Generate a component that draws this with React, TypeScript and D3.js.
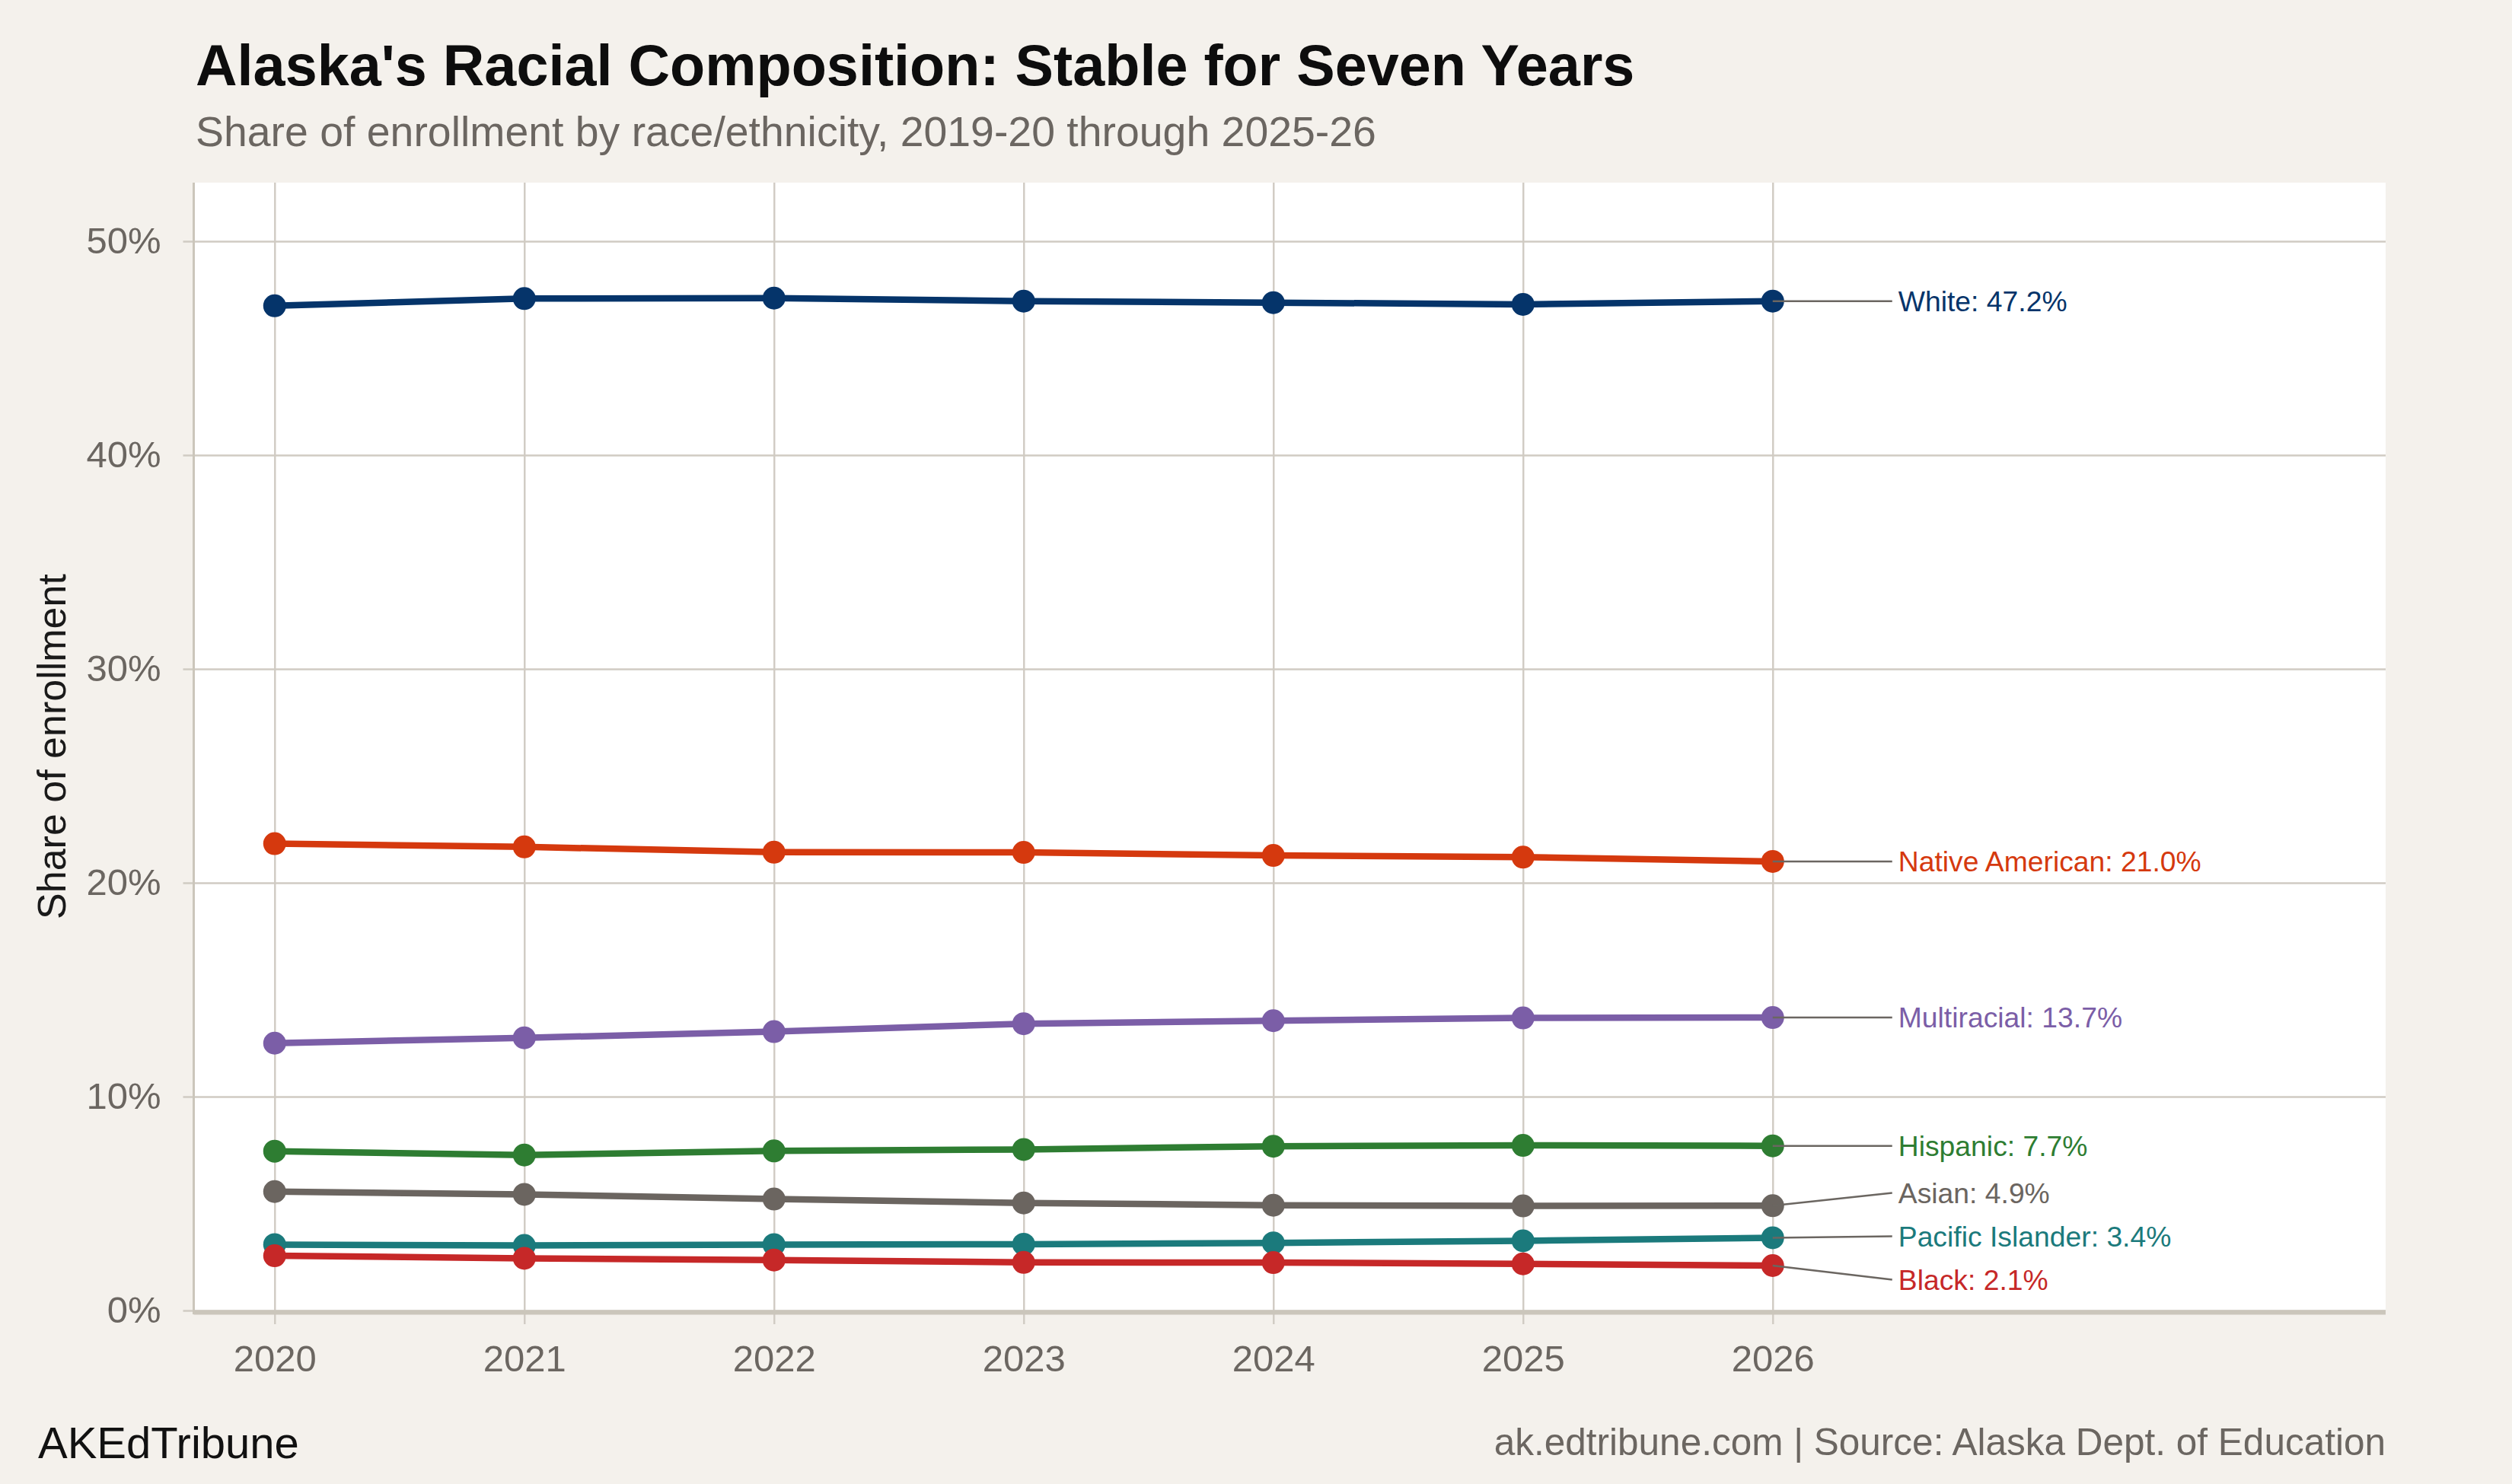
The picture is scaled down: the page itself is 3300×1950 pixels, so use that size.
import React from "react";
import * as d3 from "d3";

// School years, labelled by the spring year (2019-20 -> 2020)
const years = [2020, 2021, 2022, 2023, 2024, 2025, 2026];
const yTicks = [0, 10, 20, 30, 40, 50];

const races = ["White", "Native American", "Multiracial", "Hispanic", "Asian", "Pacific Islander", "Black"];
const raceColors = ["#05346a", "#d5390e", "#7b5ea7", "#2e7d32", "#6b6560", "#1b7a7c", "#c62828"];

// Share of enrollment, percent
const white = [46.98, 47.32, 47.34, 47.2, 47.13, 47.05, 47.2];
const nativeAmerican = [21.83, 21.68, 21.43, 21.42, 21.28, 21.2, 21.0];
const multiracial = [12.5, 12.75, 13.04, 13.41, 13.55, 13.68, 13.7];
const hispanic = [7.45, 7.27, 7.46, 7.53, 7.68, 7.72, 7.7];
const asian = [5.56, 5.43, 5.21, 5.03, 4.92, 4.89, 4.9];
const pacificIslander = [3.08, 3.04, 3.08, 3.1, 3.16, 3.26, 3.4];
const black = [2.56, 2.44, 2.36, 2.25, 2.24, 2.18, 2.1];

const seriesValues = [white, nativeAmerican, multiracial, hispanic, asian, pacificIslander, black];

interface Series {
  name: string;
  color: string;
  values: number[];
}

const series: Series[] = races.map((name, i) => ({ name, color: raceColors[i], values: seriesValues[i] }));

const WIDTH = 3300;
const HEIGHT = 1950;
const FONT = "'Liberation Sans', Arial, Helvetica, sans-serif";
const BG = "#f4f1ec";
const GRID = "#d0cbc3";
const AXIS = "#cbc6bb";
const MUTED = "#6b6661";

// Push overlapping label positions apart, keeping each cluster centred on its targets
function spreadLabels(targets: number[], gap: number): number[] {
  const order = d3.range(targets.length).sort((a, b) => targets[a] - targets[b]);
  type Group = { idx: number[]; center: number };
  const groups: Group[] = [];
  order.forEach((i) => {
    groups.push({ idx: [i], center: targets[i] });
    while (groups.length > 1) {
      const cur = groups[groups.length - 1];
      const prev = groups[groups.length - 2];
      const prevBottom = prev.center + ((prev.idx.length - 1) / 2) * gap;
      const curTop = cur.center - ((cur.idx.length - 1) / 2) * gap;
      if (curTop - prevBottom >= gap) break;
      const idx = prev.idx.concat(cur.idx);
      groups.splice(groups.length - 2, 2, { idx, center: d3.mean(idx, (k) => targets[k]) as number });
    }
  });
  const out = new Array(targets.length).fill(0);
  groups.forEach((g) => {
    g.idx.forEach((k, j) => {
      out[k] = g.center + (j - (g.idx.length - 1) / 2) * gap;
    });
  });
  return out;
}

const App = () => {
  const svgRef = React.useRef<SVGSVGElement>(null);

  React.useEffect(() => {
    const margin = { top: 240, right: 166, bottom: 228, left: 254.5 };
    const width = WIDTH - margin.left - margin.right;
    const height = HEIGHT - margin.top - margin.bottom;

    const xScale = d3.scaleLinear().domain([2019.676, 2028.455]).range([0, width]);
    const yScale = d3.scaleLinear().domain([0, 52.74]).range([height, 0]);

    const svgEl = d3.select(svgRef.current);
    svgEl.selectAll("*").remove();

    svgEl.append("rect").attr("width", WIDTH).attr("height", HEIGHT).attr("fill", BG);

    // Title block
    svgEl.append("text")
      .attr("x", 257).attr("y", 112)
      .attr("font-family", FONT).attr("font-weight", "bold").attr("font-size", 75.6)
      .attr("fill", "#0d0d0d")
      .text("Alaska's Racial Composition: Stable for Seven Years");
    svgEl.append("text")
      .attr("x", 257).attr("y", 192)
      .attr("font-family", FONT).attr("font-size", 55.4)
      .attr("fill", MUTED)
      .text("Share of enrollment by race/ethnicity, 2019-20 through 2025-26");

    const svg = svgEl.append("g").attr("transform", `translate(${margin.left},${margin.top})`);

    svg.append("rect").attr("width", width).attr("height", height).attr("fill", "#ffffff");

    // Vertical grid lines with ticks below the panel
    const xAxis = d3.axisBottom(xScale)
      .tickValues(years)
      .tickFormat((d) => String(d))
      .tickSize(18)
      .tickPadding(27);
    const xAxisGroup = svg.append("g").attr("transform", `translate(0,${height})`).call(xAxis);
    xAxisGroup.select(".domain").remove();
    xAxisGroup.selectAll("line").attr("stroke", GRID).attr("stroke-width", 2.4).attr("y1", -height);
    xAxisGroup.selectAll("text")
      .attr("fill", MUTED)
      .attr("font-family", FONT)
      .attr("font-size", 49);

    // Horizontal grid lines with labels
    const yAxis = d3.axisLeft(yScale)
      .tickValues(yTicks)
      .tickFormat((d) => `${d}%`)
      .tickSize(14)
      .tickPadding(29);
    const yAxisGroup = svg.append("g").call(yAxis);
    yAxisGroup.select(".domain").remove();
    yAxisGroup.selectAll("line").attr("stroke", GRID).attr("stroke-width", 2.6).attr("x2", width);
    yAxisGroup.selectAll("line").attr("x1", -14);
    yAxisGroup.selectAll("text")
      .attr("fill", MUTED)
      .attr("font-family", FONT)
      .attr("font-size", 49);

    // Axis lines
    svg.append("line")
      .attr("x1", 0).attr("x2", width)
      .attr("y1", height + 2.5).attr("y2", height + 2.5)
      .attr("stroke", AXIS).attr("stroke-width", 6);
    svg.append("line")
      .attr("x1", 0).attr("x2", 0)
      .attr("y1", 0).attr("y2", height + 5)
      .attr("stroke", AXIS).attr("stroke-width", 3);

    // Lines and points
    const line = d3.line<number>()
      .x((d, i) => xScale(years[i]))
      .y((d) => yScale(d));

    svg.selectAll(".race-line")
      .data(series)
      .enter()
      .append("path")
      .attr("class", "race-line")
      .attr("fill", "none")
      .attr("stroke", (d) => d.color)
      .attr("stroke-width", 8.5)
      .attr("stroke-linejoin", "round")
      .attr("d", (d) => line(d.values));

    series.forEach((s) => {
      svg.append("g")
        .selectAll("circle")
        .data(s.values)
        .enter()
        .append("circle")
        .attr("cx", (d, i) => xScale(years[i]))
        .attr("cy", (d) => yScale(d))
        .attr("r", 15)
        .attr("fill", s.color);
    });

    // End labels with leader lines
    const last = years.length - 1;
    const xEnd = xScale(years[last]);
    const labelX = xEnd + 157;
    const labelY = spreadLabels(series.map((s) => yScale(s.values[last])), 57);

    series.forEach((s, i) => {
      const v = s.values[last];
      svg.append("line")
        .attr("x1", xEnd).attr("y1", yScale(v))
        .attr("x2", labelX).attr("y2", labelY[i])
        .attr("stroke", MUTED).attr("stroke-width", 2.5);
      svg.append("text")
        .attr("x", labelX + 8).attr("y", labelY[i])
        .attr("dy", "0.35em")
        .attr("font-family", FONT).attr("font-size", 37.3)
        .attr("fill", s.color)
        .text(`${s.name}: ${v.toFixed(1)}%`);
    });

    // Y axis title
    svgEl.append("text")
      .attr("transform", `translate(68,${margin.top + height / 2}) rotate(-90)`)
      .attr("text-anchor", "middle")
      .attr("dy", "0.35em")
      .attr("font-family", FONT).attr("font-size", 52)
      .attr("fill", "#1a1a1a")
      .text("Share of enrollment");

    // Footer
    svgEl.append("text")
      .attr("x", 50).attr("y", 1916)
      .attr("font-family", FONT).attr("font-size", 58)
      .attr("fill", "#111111")
      .text("AKEdTribune");
    svgEl.append("text")
      .attr("x", margin.left + width).attr("y", 1912)
      .attr("text-anchor", "end")
      .attr("font-family", FONT).attr("font-size", 49.5)
      .attr("fill", MUTED)
      .text("ak.edtribune.com | Source: Alaska Dept. of Education");
  }, []);

  return (
    <svg
      ref={svgRef}
      width={WIDTH}
      height={HEIGHT}
      style={{ position: "absolute", left: 0, top: 0, display: "block" }}
    />
  );
};

export default App;
